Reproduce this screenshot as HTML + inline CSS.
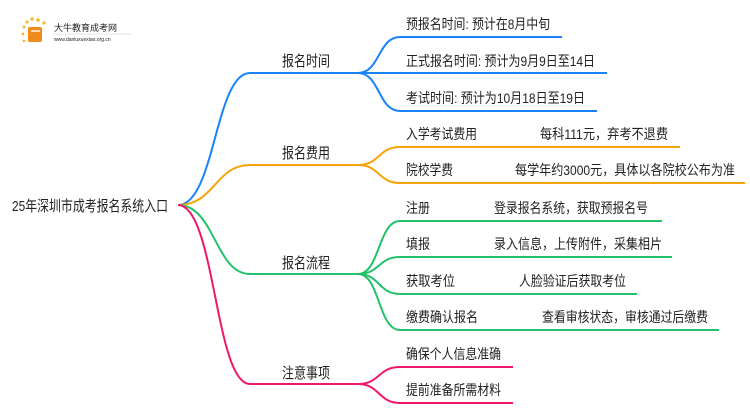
<!DOCTYPE html>
<html><head><meta charset="utf-8"><style>
body{margin:0;width:750px;height:410px;background:#fff;overflow:hidden}
svg text{font-family:"Liberation Sans","Noto Sans CJK SC",sans-serif;fill:#222}
</style></head><body>
<svg width="750" height="410" viewBox="0 0 750 410" xmlns="http://www.w3.org/2000/svg">
<g>
<circle cx="24" cy="27" r="1.5" fill="#f7b733"/><circle cx="27" cy="22" r="1.6" fill="#f7b733"/><circle cx="32" cy="19" r="1.7" fill="#f7b733"/><circle cx="38" cy="20" r="1.8" fill="#f7b733"/><circle cx="44" cy="23" r="1.6" fill="#f7b733"/><circle cx="23" cy="34" r="1.4" fill="#f7b733"/><circle cx="24" cy="41" r="1.3" fill="#f7b733"/>
<rect x="28" y="27" width="14" height="15" rx="2" fill="#f08a1c"/>
<rect x="31" y="30" width="9" height="2" fill="#fff" opacity="0.7"/>
<text x="54" y="31" font-size="9" fill="#333">大牛教育成考网</text>
<line x1="53" y1="34" x2="132" y2="34" stroke="#ccc" stroke-width="0.6"/>
<text x="54" y="41" font-size="5" fill="#555">www.daniuxuexiao.org.cn</text>
</g>
<g fill="none" stroke-width="2">
<path d="M178,205 C215,205 215,73 250,73 L358,73" stroke="#1a82fb"/>
<path d="M358,73 C380,73 378,37 400,37 L562,37" stroke="#1a82fb"/>
<path d="M358,73 L607,73" stroke="#1a82fb"/>
<path d="M358,73 C380,73 378,111 400,111 L597,111" stroke="#1a82fb"/>
<path d="M178,205 C215,205 215,165 250,165 L358,165" stroke="#f5a40a"/>
<path d="M358,165 C380,165 378,147 400,147 L680,147" stroke="#f5a40a"/>
<path d="M358,165 C380,165 378,183 400,183 L745,183" stroke="#f5a40a"/>
<path d="M178,205 C215,205 215,274 250,274 L358,274" stroke="#22c26a"/>
<path d="M358,274 C380,274 378,221 400,221 L662,221" stroke="#22c26a"/>
<path d="M358,274 C380,274 378,257 400,257 L672,257" stroke="#22c26a"/>
<path d="M358,274 C380,274 378,294 400,294 L637,294" stroke="#22c26a"/>
<path d="M358,274 C380,274 378,330 400,330 L719,330" stroke="#22c26a"/>
<path d="M178,205 C215,205 215,384 250,384 L358,384" stroke="#f0166c"/>
<path d="M358,384 C380,384 378,367 400,367 L513,367" stroke="#f0166c"/>
<path d="M358,384 C380,384 378,403 400,403 L513,403" stroke="#f0166c"/>
</g>
<g font-size="15" lengthAdjust="spacingAndGlyphs">
<text x="12" y="211" textLength="156" lengthAdjust="spacingAndGlyphs">25年深圳市成考报名系统入口</text>
<text x="282" y="66" textLength="48" lengthAdjust="spacingAndGlyphs">报名时间</text>
<text x="282" y="158" textLength="48" lengthAdjust="spacingAndGlyphs">报名费用</text>
<text x="282" y="268" textLength="48" lengthAdjust="spacingAndGlyphs">报名流程</text>
<text x="282" y="378" textLength="48" lengthAdjust="spacingAndGlyphs">注意事项</text>
</g>
<g font-size="14">
<text x="406" y="29" textLength="144" lengthAdjust="spacingAndGlyphs">预报名时间: 预计在8月中旬</text>
<text x="406" y="66" textLength="189" lengthAdjust="spacingAndGlyphs">正式报名时间: 预计为9月9日至14日</text>
<text x="406" y="103" textLength="179" lengthAdjust="spacingAndGlyphs">考试时间: 预计为10月18日至19日</text>
<text x="406" y="139" textLength="71" lengthAdjust="spacingAndGlyphs">入学考试费用</text><text x="540" y="139" textLength="128" lengthAdjust="spacingAndGlyphs">每科111元，弃考不退费</text>
<text x="406" y="175" textLength="47" lengthAdjust="spacingAndGlyphs">院校学费</text><text x="515" y="175" textLength="220" lengthAdjust="spacingAndGlyphs">每学年约3000元，具体以各院校公布为准</text>
<text x="406" y="213" textLength="24" lengthAdjust="spacingAndGlyphs">注册</text><text x="494" y="213" textLength="154" lengthAdjust="spacingAndGlyphs">登录报名系统，获取预报名号</text>
<text x="406" y="249" textLength="24" lengthAdjust="spacingAndGlyphs">填报</text><text x="494" y="249" textLength="168" lengthAdjust="spacingAndGlyphs">录入信息，上传附件，采集相片</text>
<text x="406" y="286" textLength="49" lengthAdjust="spacingAndGlyphs">获取考位</text><text x="519" y="286" textLength="107" lengthAdjust="spacingAndGlyphs">人脸验证后获取考位</text>
<text x="406" y="322" textLength="72" lengthAdjust="spacingAndGlyphs">缴费确认报名</text><text x="542" y="322" textLength="166" lengthAdjust="spacingAndGlyphs">查看审核状态，审核通过后缴费</text>
<text x="406" y="359" textLength="95" lengthAdjust="spacingAndGlyphs">确保个人信息准确</text>
<text x="406" y="395" textLength="95" lengthAdjust="spacingAndGlyphs">提前准备所需材料</text>
</g>
</svg>
</body></html>
